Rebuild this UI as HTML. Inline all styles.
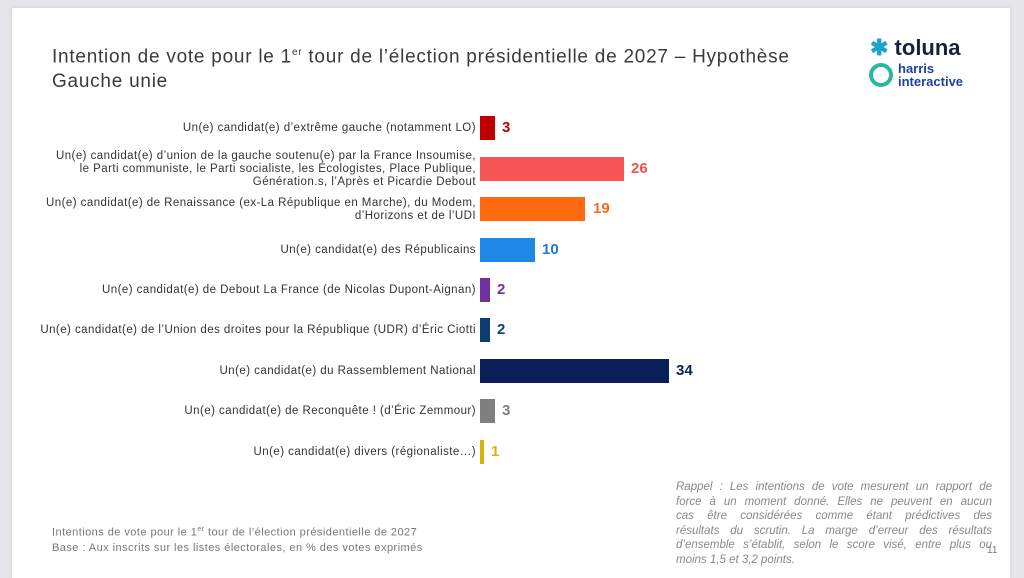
<!DOCTYPE html>
<html><head><meta charset="utf-8"><style>
body{margin:0;width:1024px;height:565px;background:#e6e6ea;position:relative;overflow:hidden;font-family:"Liberation Sans",sans-serif;}
.slide{position:absolute;left:12px;top:8px;width:998px;height:570px;background:#fff;box-shadow:0 0 4px #ccc;}
.t{position:absolute;left:52px;top:40px;font-size:19px;letter-spacing:0.75px;color:#3a3a3a;line-height:25px;white-space:nowrap;}
.lbl{position:absolute;right:548px;text-align:right;font-size:11.5px;letter-spacing:0.45px;color:#333;line-height:13px;white-space:nowrap;}
.bar{position:absolute;left:480px;height:24px;}
.v{position:absolute;font-weight:bold;font-size:15px;line-height:18px;}
.foot{position:absolute;left:52px;top:522px;font-size:11px;letter-spacing:0.45px;color:#777;line-height:15px;white-space:nowrap;}
.rap{position:absolute;left:676px;top:480px;width:316px;font-size:11.5px;color:#888;font-style:italic;line-height:14.6px;}
.rap div{text-align:justify;text-align-last:justify;white-space:nowrap;}
.rap div.l{text-align-last:left;}
</style></head><body>
<div class="slide"></div>
<div class="t">Intention de vote pour le 1<sup style="font-size:10px">er</sup> tour de l’élection présidentielle de 2027 – Hypothèse<br>Gauche unie</div>
<div style="position:absolute;left:870px;top:35px;font-weight:bold;font-size:22px;color:#1a2040;"><span style="color:#1aa3c8">✱</span> toluna</div>
<div style="position:absolute;left:869px;top:63px;width:24px;height:24px;border:4px solid #2ab9a0;border-radius:50%;box-sizing:border-box;"></div>
<div style="position:absolute;left:898px;top:62px;font-weight:bold;font-size:13px;line-height:13px;color:#1f3fa0;">harris<br>interactive</div>

<div class="lbl" style="top:122px">Un(e) candidat(e) d’extrême gauche (notamment LO)</div>
<div class="bar" style="top:116px;width:15px;background:#c00000"></div><div class="v" style="left:502px;top:119px;color:#c00000">3</div>

<div class="lbl" style="top:150px">Un(e) candidat(e) d’union de la gauche soutenu(e) par la France Insoumise,<br>le Parti communiste, le Parti socialiste, les Écologistes, Place Publique,<br>Génération.s, l’Après et Picardie Debout</div>
<div class="bar" style="top:157px;width:144px;background:#f75656"></div><div class="v" style="left:631px;top:160px;color:#f05050">26</div>

<div class="lbl" style="top:197px">Un(e) candidat(e) de Renaissance (ex-La République en Marche), du Modem,<br>d’Horizons et de l’UDI</div>
<div class="bar" style="top:197px;width:105px;background:#ff6a10"></div><div class="v" style="left:593px;top:200px;color:#f07020">19</div>

<div class="lbl" style="top:244px">Un(e) candidat(e) des Républicains</div>
<div class="bar" style="top:238px;width:55px;background:#1e88e5"></div><div class="v" style="left:542px;top:241px;color:#1e7ad0">10</div>

<div class="lbl" style="top:284px">Un(e) candidat(e) de Debout La France (de Nicolas Dupont-Aignan)</div>
<div class="bar" style="top:278px;width:10px;background:#7030a0"></div><div class="v" style="left:497px;top:281px;color:#7030a0">2</div>

<div class="lbl" style="top:324px">Un(e) candidat(e) de l’Union des droites pour la République (UDR) d’Éric Ciotti</div>
<div class="bar" style="top:318px;width:10px;background:#0f3d70"></div><div class="v" style="left:497px;top:321px;color:#0f3d70">2</div>

<div class="lbl" style="top:365px">Un(e) candidat(e) du Rassemblement National</div>
<div class="bar" style="top:359px;width:189px;background:#0a1f5a"></div><div class="v" style="left:676px;top:362px;color:#0a1f5a">34</div>

<div class="lbl" style="top:405px">Un(e) candidat(e) de Reconquête ! (d’Éric Zemmour)</div>
<div class="bar" style="top:399px;width:15px;background:#7f7f7f"></div><div class="v" style="left:502px;top:402px;color:#7f7f7f">3</div>

<div class="lbl" style="top:446px">Un(e) candidat(e) divers (régionaliste…)</div>
<div class="bar" style="top:440px;width:4px;background:#d8b40a"></div><div class="v" style="left:491px;top:443px;color:#d8b40a">1</div>

<div class="foot">Intentions de vote pour le 1<sup style="font-size:7px">er</sup> tour de l’élection présidentielle de 2027<br>Base : Aux inscrits sur les listes électorales, en % des votes exprimés</div>
<div class="rap">
<div>Rappel : Les intentions de vote mesurent un rapport de</div>
<div>force à un moment donné. Elles ne peuvent en aucun</div>
<div>cas être considérées comme étant prédictives des</div>
<div>résultats du scrutin. La marge d’erreur des résultats</div>
<div>d’ensemble s’établit, selon le score visé, entre plus ou</div>
<div class="l">moins 1,5 et 3,2 points.</div>
</div>
<div style="position:absolute;left:987px;top:545px;font-size:10px;color:#777">11</div>
</body></html>
